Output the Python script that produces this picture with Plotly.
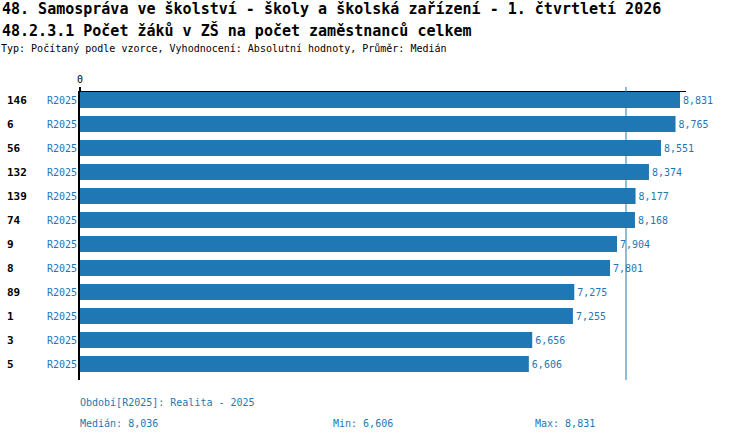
import plotly.graph_objects as go
import numpy as np

# ---- data ----
row_ids = ["146", "6", "56", "132", "139", "74", "9", "8", "89", "1", "3", "5"]
period_labels = ["R2025"] * 12
values = [8831, 8765, 8551, 8374, 8177, 8168, 7904, 7801, 7275, 7255, 6656, 6606]
title_line1 = "48. Samospráva ve školství - školy a školská zařízení - 1. čtvrtletí 2026"
title_line2 = "48.2.3.1 Počet žáků v ZŠ na počet zaměstnanců celkem"
subtitle = "Typ: Počítaný podle vzorce, Vyhodnocení: Absolutní hodnoty, Průměr: Medián"
period_note = "Období[R2025]: Realita - 2025"

median_v = float(np.median(values))
min_v = min(values)
max_v = max(values)

def fmt(v):
    return f"{v:,.0f}" if float(v).is_integer() else f"{v:,.3f}"

BLUE = "#1f77b4"
FONT = "DejaVu Sans Mono"

W, H = 750, 440
L, R, T, B = 80, 64, 92, 60
PW = W - L - R
PH = H - T - B

idx = list(range(len(values)))

fig = go.Figure()
fig.add_trace(go.Bar(
    x=values, y=idx, orientation="h", width=2/3,
    marker=dict(color=BLUE, line=dict(width=0)),
    text=[fmt(v) for v in values], textposition="outside",
    textfont=dict(family=FONT, size=10, color=BLUE),
    cliponaxis=False, hoverinfo="skip",
))

# median line
fig.add_shape(type="line", xref="x", yref="paper",
              x0=median_v, x1=median_v, y0=0, y1=1 + 5 / PH,
              line=dict(color=BLUE, width=1))

def px(p):
    return (p - L) / PW

def py(p):
    return (H - B - p) / PH

ann = []
ann.append(dict(text="<b>" + title_line1 + "</b>", xref="paper", yref="paper",
                x=px(0), y=py(9), xanchor="left", yanchor="middle",
                showarrow=False, font=dict(family=FONT, size=15, color="black")))
ann.append(dict(text="<b>" + title_line2 + "</b>", xref="paper", yref="paper",
                x=px(0), y=py(30), xanchor="left", yanchor="middle",
                showarrow=False, font=dict(family=FONT, size=15, color="black")))
ann.append(dict(text=subtitle, xref="paper", yref="paper",
                x=px(-1), y=py(49), xanchor="left", yanchor="middle",
                showarrow=False, font=dict(family=FONT, size=10, color="black")))

for i, (rid, pl) in enumerate(zip(row_ids, period_labels)):
    ann.append(dict(text="<b>" + rid + "</b>", xref="paper", yref="y",
                    x=px(5), y=i, xanchor="left", yanchor="middle",
                    showarrow=False, font=dict(family=FONT, size=11, color="black")))
    ann.append(dict(text=pl, xref="paper", yref="y",
                    x=px(79), y=i, xanchor="right", yanchor="middle",
                    showarrow=False, font=dict(family=FONT, size=10, color=BLUE)))

ann.append(dict(text=period_note, xref="paper", yref="paper", x=px(78), y=py(402),
                xanchor="left", yanchor="middle", showarrow=False,
                font=dict(family=FONT, size=10, color=BLUE)))
ann.append(dict(text="Medián: " + fmt(median_v), xref="paper", yref="paper", x=px(78), y=py(423),
                xanchor="left", yanchor="middle", showarrow=False,
                font=dict(family=FONT, size=10, color=BLUE)))
ann.append(dict(text="Min: " + fmt(min_v), xref="paper", yref="paper", x=px(331), y=py(423),
                xanchor="left", yanchor="middle", showarrow=False,
                font=dict(family=FONT, size=10, color=BLUE)))
ann.append(dict(text="Max: " + fmt(max_v), xref="paper", yref="paper", x=px(533), y=py(423),
                xanchor="left", yanchor="middle", showarrow=False,
                font=dict(family=FONT, size=10, color=BLUE)))

fig.update_layout(
    width=W, height=H, margin=dict(l=L, r=R, t=T, b=B, pad=0),
    paper_bgcolor="white", plot_bgcolor="white", showlegend=False,
    font=dict(family=FONT, size=10, color="black"),
    annotations=ann,
    xaxis=dict(side="top", range=[0, max_v * 1.01], tickvals=[0], ticktext=["0"],
               ticks="outside", ticklen=4, tickcolor="black", tickwidth=2,
               showline=True, linecolor="black", linewidth=1,
               showgrid=False, zeroline=False,
               tickfont=dict(family=FONT, size=10, color="black")),
    yaxis=dict(range=[len(values) - 1 + 2/3, -1/3], showticklabels=False, ticks="",
               showline=True, linecolor="black", linewidth=2,
               showgrid=False, zeroline=False),
)

fig.write_html("out.html", config={"displayModeBar": False},
               post_script="document.body.style.margin='0';document.body.style.overflow='hidden';")
